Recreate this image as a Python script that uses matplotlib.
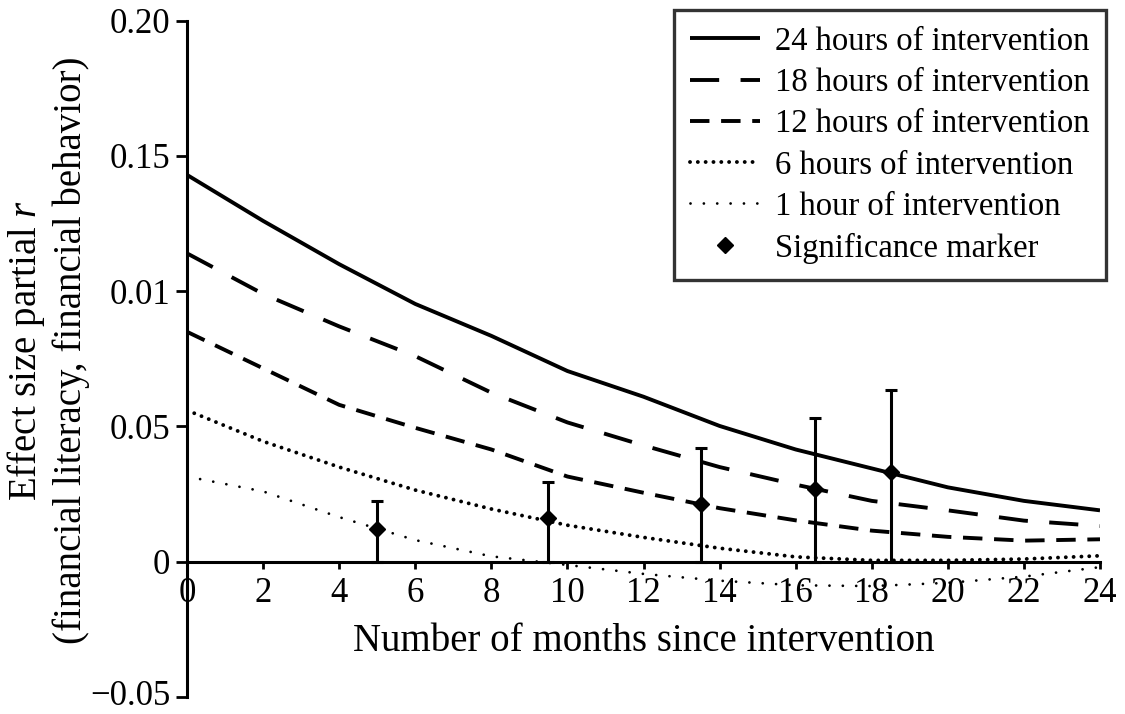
import numpy as np
import matplotlib
matplotlib.use("Agg")
import matplotlib.pyplot as plt
from matplotlib.lines import Line2D
from matplotlib.transforms import ScaledTranslation

plt.rcParams["font.family"] = ["Liberation Serif", "DejaVu Serif"]
plt.rcParams["mathtext.fontset"] = "custom"
plt.rcParams["mathtext.rm"] = "Liberation Serif"
plt.rcParams["mathtext.it"] = "Liberation Serif:italic"

# months since intervention
months = [0, 2, 4, 6, 8, 10, 12, 14, 16, 18, 20, 22, 24]

# effect sizes
h24 = [0.143, 0.126, 0.110, 0.0953, 0.0835, 0.0705, 0.061, 0.0502, 0.0415, 0.0345, 0.0275, 0.0225, 0.019]
h18 = [0.114, 0.099, 0.087, 0.076, 0.0625, 0.0515, 0.043, 0.035, 0.0285, 0.0225, 0.019, 0.0152, 0.0132]
h12 = [0.085, 0.0715, 0.058, 0.0495, 0.0415, 0.0315, 0.0255, 0.0198, 0.0153, 0.0115, 0.0092, 0.0078, 0.0083]
h6 = [0.056, 0.0445, 0.035, 0.0265, 0.0195, 0.0135, 0.009, 0.005, 0.0018, 0.0005, 0.0005, 0.001, 0.0022]
h1 = [0.0315, 0.026, 0.0165, 0.008, 0.002, -0.0012, -0.0045, -0.007, -0.0087, -0.009, -0.0078, -0.0055, -0.002]

# significance markers with error bars (lower end on the axis)
sig_months = [5, 9.5, 13.5, 16.5, 18.5]
sig_vals = [0.012, 0.016, 0.0215, 0.027, 0.033]
sig_upper = [0.0225, 0.0293, 0.0422, 0.0532, 0.0635]

labels = ["24 hours of intervention", "18 hours of intervention", "12 hours of intervention",
          "6 hours of intervention", "1 hour of intervention", "Significance marker"]

yticks = [-0.05, 0, 0.05, 0.10, 0.15, 0.20]
ytick_labels = ["\u22120.05", "0", "0.05", "0.01", "0.15", "0.20"]
xticks = list(range(0, 25, 2))

fig = plt.figure(figsize=(11.25, 7.14), dpi=100)
ax = fig.add_axes([187 / 1125, 1 - 697 / 714, 913 / 1125, (697 - 20.7) / 714])

l24, = ax.plot(months, h24, color="black", lw=2.8, solid_capstyle="butt")
l18, = ax.plot(months, h18, color="black", lw=2.8, dashes=(7.5, 5.5))
l12, = ax.plot(months, h12, color="black", lw=2.8, dashes=(5.0, 3.0))
l6, = ax.plot(months, h6, color="black", lw=2.8, dashes=(0.01, 2.0), dash_capstyle="round")
l1, = ax.plot(months, h1, color="black", lw=2.0, dashes=(0.01, 4.8), dash_capstyle="round")

err_low = [v for v in sig_vals]
err_high = [u - v for u, v in zip(sig_upper, sig_vals)]
ax.errorbar(sig_months, sig_vals, yerr=[err_low, err_high], fmt="D", color="black",
            markersize=8, elinewidth=2.2, capsize=4, capthick=2.2, zorder=5)

ax.set_xlim(0, 24)
ax.set_ylim(-0.05, 0.20)
ax.spines["top"].set_visible(False)
ax.spines["right"].set_visible(False)
ax.spines["bottom"].set_position(("data", 0))
ax.spines["left"].set_linewidth(2.2)
ax.spines["bottom"].set_linewidth(2.2)

ax.set_yticks(yticks)
ax.set_yticklabels(ytick_labels)
ax.set_xticks(xticks)
ax.tick_params(axis="y", direction="out", length=8, width=2, labelsize=25, pad=4)
ax.tick_params(axis="x", direction="out", length=5, width=2, labelsize=25, pad=6)

# bottom label sits a little above its tick, as in the scan
low = ax.yaxis.get_majorticklabels()[0]
low.set_verticalalignment("baseline")
low.set_transform(low.get_transform() + ScaledTranslation(0, -0.08, fig.dpi_scale_trans))

ax.set_xlabel("Number of months since intervention", fontsize=28, labelpad=9)
ax.set_ylabel("Effect size partial $r$\n(financial literacy, financial behavior)",
              fontsize=28, linespacing=1.2)
ax.yaxis.set_label_coords(-0.106, 0.513)

handles = [l24, l18, l12, l6, l1,
           Line2D([], [], color="black", marker="D", linestyle="none", markersize=8)]
leg = ax.legend(handles, labels, loc="upper right", bbox_to_anchor=(1106 / 1125, 1 - 10 / 714),
                bbox_transform=fig.transFigure, borderaxespad=0, fontsize=23.5, frameon=True,
                fancybox=False, edgecolor="black", handlelength=2.15, labelspacing=0.33,
                handletextpad=0.45, borderpad=0.5)
leg.get_frame().set_linewidth(2.4)

fig.savefig("out.png", dpi=100)
